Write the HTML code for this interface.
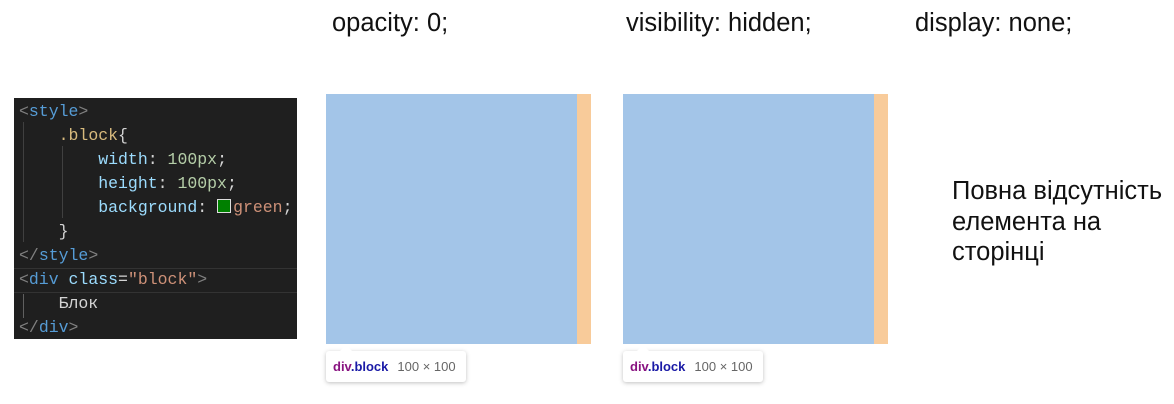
<!DOCTYPE html>
<html><head><meta charset="utf-8"><style>
body{margin:0;width:1174px;height:404px;background:#fff;position:relative;overflow:hidden;font-family:"Liberation Sans","DejaVu Sans",sans-serif}
.t{position:absolute;font-size:25.5px;color:#111;white-space:nowrap;line-height:26px}
.code{position:absolute;left:14px;top:98px;width:283px;height:241px;background:#1f1f1f;font-family:"Liberation Mono","DejaVu Sans Mono",monospace;font-size:16.5px}
.ln{position:absolute;left:5px;height:24px;line-height:24px;white-space:pre;color:#d4d4d4}
.tg{color:#569cd6}.br{color:#808080}.at{color:#9cdcfe}.st{color:#ce9178}.nu{color:#b5cea8}.sl{color:#d7ba7d}
.blue{position:absolute;top:94px;height:250px;width:251px;background:#a3c5e8}
.or{position:absolute;top:94px;height:250px;width:14px;background:#f8cb9a}
.tip{position:absolute;top:351px;width:140px;height:31px;background:#fff;border-radius:3px;box-shadow:0 1px 4px rgba(0,0,0,.25);font-size:13px;line-height:31px;white-space:nowrap}
.tip b{color:#881280;margin-left:7px}.tip b span{color:#1a1aa6}.tip i{font-style:normal;color:#666;margin-left:9px}
.arr{position:absolute;top:-6px;left:14px;width:0;height:0;border-left:6px solid transparent;border-right:6px solid transparent;border-bottom:6px solid #fff}
</style></head><body>
<div class="t" style="left:332px;top:10px">opacity: 0;</div>
<div class="t" style="left:626px;top:10px">visibility: hidden;</div>
<div class="t" style="left:915px;top:10px">display: none;</div>

<div class="code">
<div style="position:absolute;left:0;top:170px;width:283px;height:23px;border-top:1px solid #333;border-bottom:1px solid #333"></div>
<div style="position:absolute;left:9px;top:24px;width:1px;height:120px;background:#404040"></div>
<div style="position:absolute;left:48px;top:48px;width:1px;height:72px;background:#404040"></div>
<div style="position:absolute;left:9px;top:196px;width:1px;height:24px;background:#606060"></div>
<div class="ln" style="top:2px"><span class="br">&lt;</span><span class="tg">style</span><span class="br">&gt;</span></div>
<div class="ln" style="top:26px">    <span class="sl">.block</span>{</div>
<div class="ln" style="top:50px">        <span class="at">width</span>: <span class="nu">100px</span>;</div>
<div class="ln" style="top:74px">        <span class="at">height</span>: <span class="nu">100px</span>;</div>
<div class="ln" style="top:98px">        <span class="at">background</span>: <span style="display:inline-block;width:12px;height:12px;background:#008000;border:1px solid #ddd;vertical-align:-1px;margin-right:2px"></span><span class="st">green</span>;</div>
<div class="ln" style="top:122px">    }</div>
<div class="ln" style="top:146px"><span class="br">&lt;/</span><span class="tg">style</span><span class="br">&gt;</span></div>
<div class="ln" style="top:170px"><span class="br">&lt;</span><span class="tg">div</span> <span class="at">class</span>=<span class="st">"block"</span><span class="br">&gt;</span></div>
<div class="ln" style="top:194px">    Блок</div>
<div class="ln" style="top:218px"><span class="br">&lt;/</span><span class="tg">div</span><span class="br">&gt;</span></div>
</div>

<div class="blue" style="left:326px"></div>
<div class="or" style="left:577px"></div>
<div class="tip" style="left:326px"><div class="arr"></div><b>div<span>.block</span></b><i>100 × 100</i></div>

<div class="blue" style="left:623px"></div>
<div class="or" style="left:874px"></div>
<div class="tip" style="left:623px"><div class="arr"></div><b>div<span>.block</span></b><i>100 × 100</i></div>

<div class="t" style="left:952px;top:176px;line-height:30.5px">Повна відсутність<br>елемента на<br>сторінці</div>
</body></html>
